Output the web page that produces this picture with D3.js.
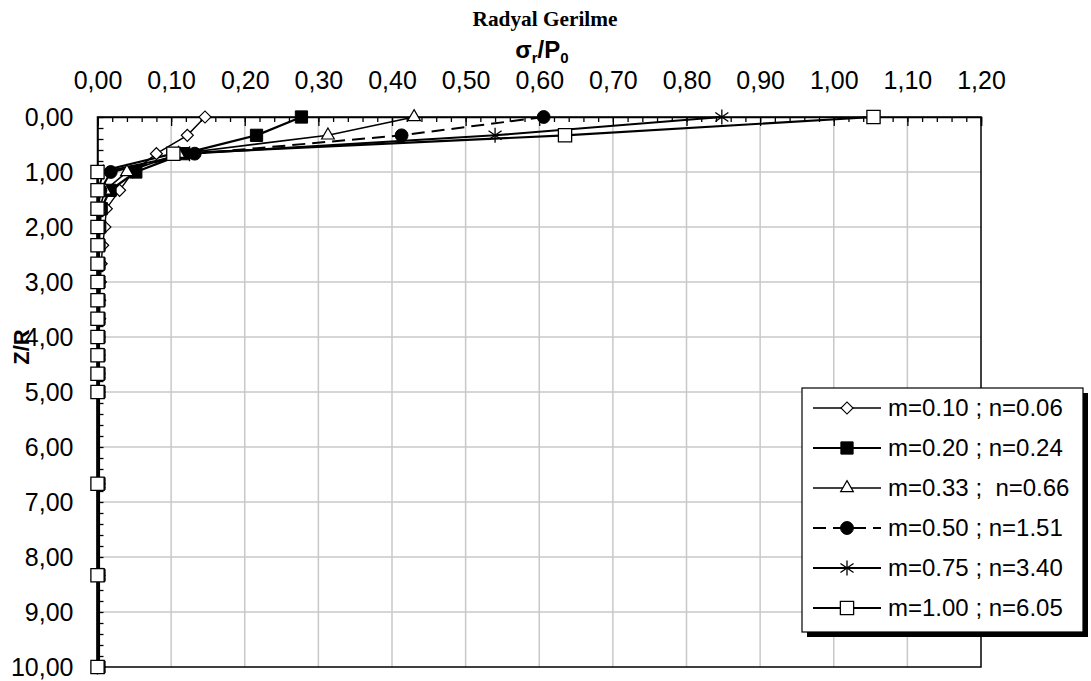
<!DOCTYPE html>
<html>
<head>
<meta charset="utf-8">
<script src="https://cdn.jsdelivr.net/npm/d3@7"></script>
<style>
  body { margin: 0; background: #fff; }
  svg { display: block; }
</style>
</head>
<body>
<svg id="chart" width="1091" height="681"></svg>
<script>
// ---------- data ----------
const zValues = [0, 1/3, 2/3, 1, 4/3, 5/3, 2, 7/3, 8/3, 3, 10/3, 11/3, 4, 13/3, 14/3, 5, 20/3, 25/3, 10];
const s1 = [0.146, 0.122, 0.080, 0.048, 0.030, 0.012, 0.010, 0.007, 0.005, 0.004, 0.003, 0.003, 0.002, 0.002, 0.002, 0.002, 0.002, 0.002, 0.002];
const s2 = [0.277, 0.216, 0.117, 0.052, 0.017, 0.005, 0.003, 0.002, 0.002, 0.002, 0.002, 0.002, 0.002, 0.002, 0.002, 0.002, 0.002, 0.002, 0.002];
const s3 = [0.430, 0.313, 0.110, 0.040, 0.010, 0.003, 0.002, 0.001, 0.001, 0.001, 0.001, 0.001, 0.001, 0.001, 0.001, 0.001, 0.001, 0.001, 0.001];
const s4 = [0.606, 0.413, 0.132, 0.018, 0.004, 0.001, 0.001, 0.001, 0.001, 0.001, 0.001, 0.001, 0.001, 0.001, 0.001, 0.001, 0.001, 0.001, 0.001];
const s5 = [0.848, 0.540, 0.125, 0.008, 0.001, 0.000, 0.000, 0.000, 0.000, 0.000, 0.000, 0.000, 0.000, 0.000, 0.000, 0.000, 0.000, 0.000, 0.000];
const s6 = [1.054, 0.635, 0.103, 0.000, 0.000, 0.000, 0.000, 0.000, 0.000, 0.000, 0.000, 0.000, 0.000, 0.000, 0.000, 0.000, 0.000, 0.000, 0.000];
const seriesNames = ["m=0.10 ; n=0.06", "m=0.20 ; n=0.24", "m=0.33 ;  n=0.66", "m=0.50 ; n=1.51", "m=0.75 ; n=3.40", "m=1.00 ; n=6.05"];
const xTicks = [0, 0.1, 0.2, 0.3, 0.4, 0.5, 0.6, 0.7, 0.8, 0.9, 1.0, 1.1, 1.2];
const yTicks = [0, 1, 2, 3, 4, 5, 6, 7, 8, 9, 10];
const chartTitle = "Radyal Gerilme";
const yTitle = "Z/R";

// ---------- styles per series ----------
const styles = [
  { marker: "diamond",  width: 1.4, dash: null },
  { marker: "square",   width: 2.2, dash: null },
  { marker: "triangle", width: 1.6, dash: null },
  { marker: "circle",   width: 2.0, dash: "13,7" },
  { marker: "star",     width: 2.0, dash: null },
  { marker: "osquare",  width: 2.2, dash: null }
];
const allSeries = [s1, s2, s3, s4, s5, s6];

const svg = d3.select("#chart");
const x = d3.scaleLinear().domain([0, 1.2]).range([97.5, 981]);
const y = d3.scaleLinear().domain([0, 10]).range([117, 667]);
const fmt = v => d3.format(".2f")(v).replace(".", ",");

// gridlines
svg.append("g").selectAll("line").data(xTicks.slice(1, -1)).join("line")
  .attr("x1", d => x(d)).attr("x2", d => x(d))
  .attr("y1", y(0)).attr("y2", y(10))
  .attr("stroke", "#c8c8c8").attr("stroke-width", 1.5);
svg.append("g").selectAll("line").data(yTicks.slice(1, -1)).join("line")
  .attr("x1", x(0)).attr("x2", x(1.2))
  .attr("y1", d => y(d)).attr("y2", d => y(d))
  .attr("stroke", "#c8c8c8").attr("stroke-width", 1.5);

// plot frame
svg.append("rect")
  .attr("x", x(0)).attr("y", y(0))
  .attr("width", x(1.2) - x(0)).attr("height", y(10) - y(0))
  .attr("fill", "none").attr("stroke", "#000").attr("stroke-width", 1.5);

// x axis (top) minor ticks
const minorX = d3.range(0, 1.2001, 0.02);
svg.append("g").attr("transform", `translate(0,${y(0)})`)
  .call(d3.axisTop(x).tickValues(minorX).tickSize(-5).tickFormat(""))
  .call(g => g.select(".domain").remove())
  .call(g => g.selectAll("line").attr("stroke", "#000").attr("stroke-width", 1.3));
// x axis major ticks + labels
svg.append("g").attr("transform", `translate(0,${y(0)})`)
  .call(d3.axisTop(x).tickValues(xTicks).tickSize(-9).tickPadding(28).tickFormat(fmt))
  .call(g => g.select(".domain").attr("stroke", "#000").attr("stroke-width", 1.5))
  .call(g => g.selectAll("line").attr("stroke", "#000").attr("stroke-width", 1.3))
  .call(g => g.selectAll("text")
    .attr("font-family", "'Liberation Sans Narrow', 'Arial Narrow', 'Liberation Sans', Arial, sans-serif")
    .attr("font-size", 25).attr("fill", "#000"));

// y axis minor ticks
const minorY = d3.range(0, 10.001, 0.2);
svg.append("g").attr("transform", `translate(${x(0)},0)`)
  .call(d3.axisLeft(y).tickValues(minorY).tickSize(-6).tickFormat(""))
  .call(g => g.select(".domain").remove())
  .call(g => g.selectAll("line").attr("stroke", "#000").attr("stroke-width", 1.3));
// y axis labels
svg.append("g").attr("transform", `translate(${x(0)},0)`)
  .call(d3.axisLeft(y).tickValues(yTicks).tickSize(0).tickPadding(24).tickFormat(fmt))
  .call(g => g.select(".domain").attr("stroke", "#000").attr("stroke-width", 1.5))
  .call(g => g.selectAll("text")
    .attr("font-family", "'Liberation Sans', Arial, sans-serif")
    .attr("font-size", 25).attr("fill", "#000"));

// titles
svg.append("text").attr("x", 545).attr("y", 26)
  .attr("text-anchor", "middle")
  .attr("font-family", "'Liberation Serif', 'Times New Roman', serif")
  .attr("font-weight", "bold").attr("font-size", 22)
  .attr("textLength", 145).attr("lengthAdjust", "spacingAndGlyphs")
  .text(chartTitle);

const xt = svg.append("text").attr("x", 542).attr("y", 58)
  .attr("text-anchor", "middle")
  .attr("font-family", "'Liberation Sans Narrow', 'Liberation Sans', Arial, sans-serif")
  .attr("font-weight", "bold").attr("font-size", 24);
xt.append("tspan").text("σ");
xt.append("tspan").attr("font-size", 15).attr("dy", 5).text("r");
xt.append("tspan").attr("dy", -5).text("/P");
xt.append("tspan").attr("font-size", 15).attr("dy", 5).text("0");

svg.append("text")
  .attr("transform", `translate(29,347) rotate(-90)`)
  .attr("text-anchor", "middle")
  .attr("font-family", "'Liberation Sans', Arial, sans-serif")
  .attr("font-weight", "bold").attr("font-size", 22)
  .text(yTitle);

// ---------- markers ----------
function drawMarker(g, type, cx, cy) {
  const t = `translate(${cx},${cy})`;
  if (type === "diamond") {
    g.append("path").attr("d", d3.symbol(d3.symbolSquare, 72)())
      .attr("transform", t + " rotate(45)")
      .attr("fill", "#fff").attr("stroke", "#000").attr("stroke-width", 1.2);
  } else if (type === "square") {
    g.append("path").attr("d", d3.symbol(d3.symbolSquare, 150)())
      .attr("transform", t).attr("fill", "#000").attr("stroke", "#000");
  } else if (type === "triangle") {
    g.append("path").attr("d", d3.symbol(d3.symbolTriangle, 70)())
      .attr("transform", t).attr("fill", "#fff").attr("stroke", "#000").attr("stroke-width", 1.2);
  } else if (type === "circle") {
    g.append("path").attr("d", d3.symbol(d3.symbolCircle, 130)())
      .attr("transform", t).attr("fill", "#000").attr("stroke", "#000");
  } else if (type === "star") {
    const r = 7.5;
    const p = d3.path();
    p.moveTo(0, -r); p.lineTo(0, r);
    p.moveTo(-r * 0.87, -r * 0.6); p.lineTo(r * 0.87, r * 0.6);
    p.moveTo(-r * 0.87, r * 0.6); p.lineTo(r * 0.87, -r * 0.6);
    g.append("path").attr("d", p.toString())
      .attr("transform", t).attr("fill", "none").attr("stroke", "#000").attr("stroke-width", 1.3);
  } else if (type === "osquare") {
    g.append("path").attr("d", d3.symbol(d3.symbolSquare, 175)())
      .attr("transform", t).attr("fill", "#fff").attr("stroke", "#000").attr("stroke-width", 1.3);
  }
}

// ---------- series ----------
const line = d3.line().x(d => x(d[0])).y(d => y(d[1]));
allSeries.forEach((vals, i) => {
  const pts = vals.map((v, k) => [v, zValues[k]]);
  const st = styles[i];
  svg.append("path").datum(pts).attr("d", line)
    .attr("fill", "none").attr("stroke", "#000").attr("stroke-width", st.width)
    .attr("stroke-dasharray", st.dash);
});
allSeries.forEach((vals, i) => {
  const g = svg.append("g");
  vals.forEach((v, k) => drawMarker(g, styles[i].marker, x(v), y(zValues[k])));
});

// ---------- legend ----------
const lx = 802, ly = 388, lw = 281, lh = 244;
svg.append("rect").attr("x", lx + 5).attr("y", ly + 5).attr("width", lw).attr("height", lh).attr("fill", "#000");
svg.append("rect").attr("x", lx).attr("y", ly).attr("width", lw).attr("height", lh)
  .attr("fill", "#fff").attr("stroke", "#000").attr("stroke-width", 1.2);
seriesNames.forEach((name, i) => {
  const ry = 408 + i * 40;
  const g = svg.append("g");
  g.append("line").attr("x1", 813).attr("x2", 881).attr("y1", ry).attr("y2", ry)
    .attr("stroke", "#000").attr("stroke-width", styles[i].width)
    .attr("stroke-dasharray", styles[i].dash);
  drawMarker(g, styles[i].marker, 847, ry);
  g.append("text").attr("x", 888).attr("y", ry).attr("dy", "0.35em")
    .attr("font-family", "'Liberation Sans', Arial, sans-serif")
    .attr("font-size", 24).attr("xml:space", "preserve").style("white-space", "pre")
    .text(name);
});
</script>
</body>
</html>
